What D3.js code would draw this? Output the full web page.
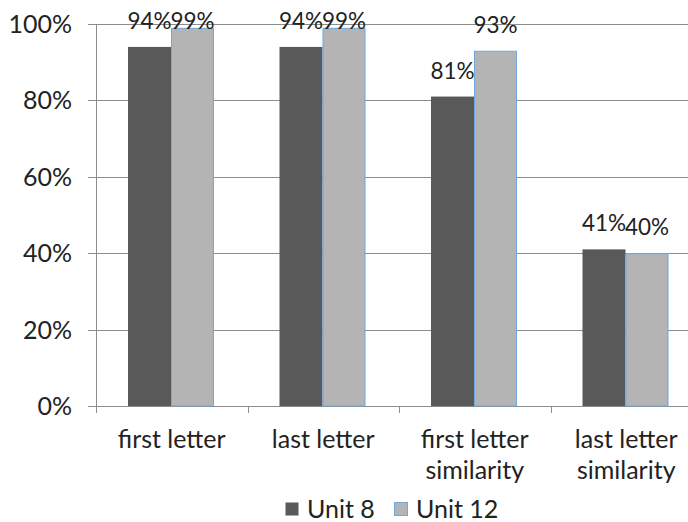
<!DOCTYPE html>
<html><head><meta charset="utf-8">
<script src="https://cdn.jsdelivr.net/npm/d3@7"></script>
<style>body{margin:0;background:#fff}</style>
</head><body>
<svg id="c" width="688" height="522"></svg>
<script>
const categories = [["first letter"],["last letter"],["first letter","similarity"],["last letter","similarity"]];
const seriesNames = ["Unit 8","Unit 12"];
const unit8 = [0.94,0.94,0.81,0.41];
const unit12 = [0.99,0.99,0.93,0.40];
const yTicks = [0,0.2,0.4,0.6,0.8,1.0];

const svg = d3.select("#c");
const font = "Lato, 'Liberation Sans', sans-serif";
const fs = 25;
const fsLabel = 22.5;
const x0 = 96, y0 = 406, yTop = 24, bandW = 151.5;
const x = d3.scaleBand().domain(d3.range(categories.length)).range([x0, x0 + bandW*categories.length]).paddingInner(0).paddingOuter(0);
const y = d3.scaleLinear().domain([0,1]).range([y0, yTop]);
const xs = d3.scaleBand().domain([0,1]).range([32, 118]).paddingInner(0).paddingOuter(0);
const colors = ["#595959","#b4b4b4"];
const strokes = [null,"#6fa8dc"];
const grid = "#8c8c8c";

svg.append("g").selectAll("line").data(yTicks).join("line")
  .attr("x1", 88).attr("x2", 688).attr("y1", d=>Math.round(y(d))+0.5).attr("y2", d=>Math.round(y(d))+0.5)
  .attr("stroke", grid).attr("stroke-width",1);
svg.append("line").attr("x1",x0+0.5).attr("x2",x0+0.5).attr("y1",yTop).attr("y2",y0).attr("stroke",grid);
svg.append("g").selectAll("line").data(d3.range(categories.length+1)).join("line")
  .attr("x1", d=>Math.round(x0+d*bandW)+0.5).attr("x2", d=>Math.round(x0+d*bandW)+0.5)
  .attr("y1", y0).attr("y2", y0+7).attr("stroke", grid);
svg.append("g").selectAll("text").data(yTicks).join("text")
  .attr("x", 72).attr("y", d=>y(d)+9).attr("text-anchor","end")
  .attr("font-family",font).attr("font-size",fs).attr("fill","#222")
  .text(d=>d3.format(".0%")(d));

const series = [unit8, unit12];
series.forEach((vals, si) => {
  const g = svg.append("g");
  g.selectAll("rect").data(vals).join("rect")
    .attr("x", (d,i)=>x(i)+xs(si)+(si?0.5:0))
    .attr("y", d=>y(d)+ (si?0.5:0))
    .attr("width", xs.bandwidth()-(si?1:0))
    .attr("height", d=>y0-y(d)-(si?0.5:0))
    .attr("fill", colors[si])
    .attr("stroke", strokes[si]||"none").attr("stroke-width",1);
});
series.forEach((vals, si) => {
  svg.append("g").selectAll("text").data(vals).join("text")
    .attr("x", (d,i)=>x(i)+xs(si)+xs.bandwidth()/2)
    .attr("y", d=>Math.max(y(d)-18, 29))
    .attr("text-anchor","middle")
    .attr("font-family",font).attr("font-size",fsLabel).attr("fill","#222")
    .text(d=>d3.format(".0%")(d));
});
const cl = svg.append("g").selectAll("text").data(categories).join("text")
  .attr("x",(d,i)=>x(i)+x.bandwidth()/2).attr("y",448)
  .attr("text-anchor","middle").attr("font-family",font).attr("font-size",fs).attr("fill","#222");
cl.selectAll("tspan").data(d=>d).join("tspan")
  .attr("x", function(){return this.parentNode.getAttribute("x");})
  .attr("dy",(d,i)=>i?31:0).text(d=>d);

const lg = svg.append("g");
const legX = [285, 394];
seriesNames.forEach((n,i)=>{
  lg.append("rect").attr("x",legX[i]+0.5).attr("y",502.5).attr("width",13).attr("height",13)
    .attr("fill",colors[i]).attr("stroke",strokes[i]||"none");
  lg.append("text").attr("x",legX[i]+22).attr("y",518).attr("font-family",font).attr("font-size",fs).attr("fill","#222").text(n);
});
</script>
</body></html>
